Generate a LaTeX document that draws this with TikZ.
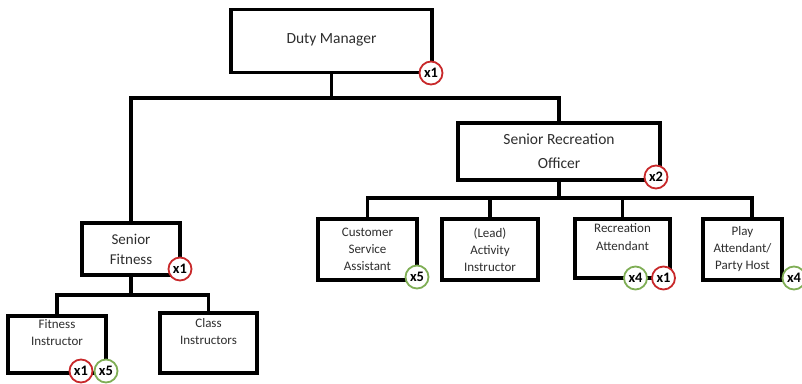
\documentclass[tikz,border=0pt]{standalone}
\usepackage{fontspec}
\setmainfont{Carlito}
\definecolor{txt}{HTML}{2E2E2E}
\definecolor{bred}{HTML}{C8282A}
\definecolor{bgreen}{HTML}{7FAE55}
\tikzset{
  orgbox/.style={draw=black, line width=3.8pt, fill=white, align=center, text=txt, inner sep=2pt},
  bigtext/.style={font=\fontsize{15.5}{24}\selectfont},
  smalltext/.style={font=\fontsize{13}{17}\selectfont},
  badge/.style={circle, draw=#1, line width=1.8pt, fill=white, inner sep=0pt, minimum size=23pt, text=black, font=\bfseries\fontsize{14.5}{14.5}\selectfont},
  conn/.style={line width=3.8pt, draw=black},
}
\begin{document}
\begin{tikzpicture}[x=1pt, y=-1pt]
\useasboundingbox (0,0) rectangle (802,383);
\fill[white] (0,0) rectangle (802,383);

% connector junctions
\coordinate (bus1) at (331.5,98);
\coordinate (bus2) at (559,198);
\coordinate (bus3) at (131,295);
\coordinate (pahtop) at (752,219);

% connectors (drawn first, boxes on top)
\draw[conn] (331.5,60) -- (bus1);
\draw[conn] (131,240) |- (bus1) -| (559,140);
\draw[conn] (559,170) -- (bus2);
\draw[conn] (367.5,230) |- (bus2) -| (pahtop);
\draw[conn] (490,198) -- (490,230);
\draw[conn] (622.5,198) -- (622.5,230);
\draw[conn] (131,260) -- (bus3);
\draw[conn] (57,330) |- (bus3) -| (208.5,330);

% boxes
\node[orgbox, bigtext, minimum width=201pt, minimum height=63pt] (dm) at (331.5,41) {\raisebox{5pt}{Duty Manager}};
\node[orgbox, bigtext, minimum width=202pt, minimum height=57pt] (sro) at (559,151.5) {Senior Recreation\\Officer};
\node[orgbox, font=\fontsize{15}{20}\selectfont, minimum width=98pt, minimum height=52pt] (sf) at (131,249) {Senior\\Fitness};
\node[orgbox, smalltext, minimum width=99pt, minimum height=61pt] (csa) at (367.5,249.5) {Customer\\Service\\Assistant};
\node[orgbox, smalltext, minimum width=96pt, minimum height=61pt] (lai) at (490,249.5) {(Lead)\\Activity\\Instructor};
\node[orgbox, smalltext, minimum width=95pt, minimum height=59pt] (ra) at (622.5,248.5) {Recreation\\Attendant\\[6pt]};
\node[orgbox, smalltext, minimum width=79pt, minimum height=61pt] (pah) at (742.5,249.5) {Play\\Attendant/\\Party Host};
\node[orgbox, smalltext, minimum width=98pt, minimum height=57pt] (fi) at (57,344.5) {Fitness\\Instructor\\[6pt]};
\node[orgbox, smalltext, minimum width=97pt, minimum height=60pt] (ci) at (208.5,343) {Class\\Instructors\\[6pt]};

% badges
\node[badge=bred] (b1) at (431,73) {x1};
\node[badge=bred] (b2) at (656,177) {x2};
\node[badge=bred] (b3) at (180,269) {x1};
\node[badge=bgreen] (b4) at (417,277) {x5};
\node[badge=bgreen] (b5) at (635.5,278) {x4};
\node[badge=bred] (b6) at (663.5,278) {x1};
\node[badge=bgreen] (b7) at (794,278) {x4};
\node[badge=bred] (b8) at (81,371) {x1};
\node[badge=bgreen] (b9) at (106,371) {x5};
\end{tikzpicture}
\end{document}
